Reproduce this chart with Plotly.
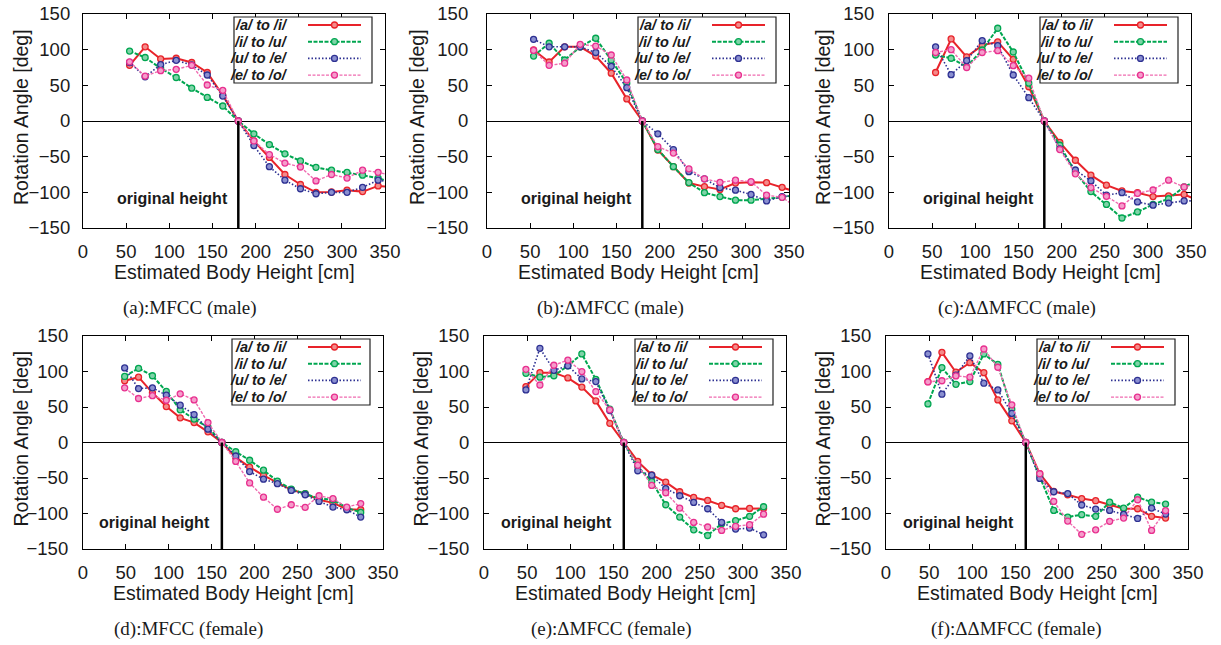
import plotly.graph_objects as go

W, H = 1221, 645

# ---------------- data ----------------
ratios = [0.3, 0.4, 0.5, 0.6, 0.7, 0.8, 0.9, 1.0, 1.1, 1.2, 1.3, 1.4, 1.5, 1.6, 1.7, 1.8, 1.9, 2.0]
male_height = 180
female_height = 162

series_names = ["/a/ to /i/", "/i/ to /u/", "/u/ to /e/", "/e/ to /o/"]

# (a) MFCC (male)
a_ai = [78, 104, 87, 88, 82, 68, 36, 0, -28, -51, -75, -89, -100, -99.5, -97, -99, -91, -93]
a_iu = [98, 89, 74, 61, 46, 33, 21, 0, -18, -33, -46, -56, -65, -69, -72, -76, -80, -87]
a_ue = [82, 62, 79, 85, 78.5, 64.5, 35, 0, -34.5, -64, -83, -95, -102, -100, -100, -93, -83, -86]
a_eo = [83, 63, 70.6, 72.4, 78, 50.5, 43, 0, -28, -47, -59, -64.5, -84, -75, -80, -69, -72, -77]
# (b) dMFCC (male)
b_ai = [99.5, 82.7, 104, 104, 91, 67, 31, 0, -40.7, -64, -87, -92, -96, -87, -86, -86.4, -93, -100]
b_iu = [91, 109, 85.5, 104, 116, 85.5, 53, 0, -40, -64, -86.4, -100.5, -106, -111, -111, -109, -107, -102.5]
b_ue = [114.5, 104, 104, 104, 96, 76.6, 46.7, 0, -18, -40, -71, -81, -93.5, -97, -103, -112, -106, -104]
b_eo = [99, 78, 81, 107.5, 105, 92.5, 57.5, 0, -36, -45, -67, -81, -86, -83, -85, -104, -107, -122]
# (c) ddMFCC (male)
c_ai = [68, 115, 90, 106, 111, 86.4, 48, 0, -30, -55, -76, -90, -98, -100.5, -106, -105, -103, -112]
c_iu = [92.5, 88, 76, 99.5, 130, 96.7, 53, 0, -34, -72, -99, -117, -136, -127.5, -117, -109, -92.5, -82]
c_ue = [104, 65, 84.6, 112.6, 105.6, 64.5, 32.7, 0, -39, -68.7, -84, -104, -100.5, -113.5, -118, -115, -112, -112]
c_eo = [96, 100, 75, 96, 98.6, 77.6, 60, 0, -40, -74, -93.5, -105.6, -119, -101.4, -96.7, -83, -92.5, -87]
# (d) MFCC (female)
d_ai = [87, 92, 70, 50.6, 34.7, 28, 15, 0, -21, -34.7, -46.4, -57, -66.6, -72, -80.6, -85, -94, -94.7]
d_iu = [93, 104.5, 94, 72, 46, 33, 21.6, 0, -13, -25, -39, -54.4, -65.6, -72, -79, -80.6, -92, -98.5]
d_ue = [105, 76, 77, 66.6, 52.5, 39.4, 18.8, 0, -19, -41, -51.6, -58, -67.5, -73.6, -83, -91, -94.7, -105]
d_eo = [77, 62, 66, 59.5, 68.5, 60, 28, 0, -26.7, -57, -77, -94, -87.7, -91.4, -75, -79, -91, -86]
# (e) dMFCC (female)
e_ai = [78.8, 98.4, 98.4, 91, 78, 58.6, 27, 0, -26.7, -45.5, -55.8, -69.4, -77.4, -81.6, -88.6, -93.3, -92.8, -92.8]
e_iu = [97.5, 92, 94, 108, 124.7, 89, 47, 0, -33.8, -54.9, -87.7, -105, -123, -131, -114.4, -110, -104, -90.5]
e_ue = [74, 132.7, 101.7, 108, 89.5, 85.8, 45, 0, -39.8, -46, -65, -75, -84.4, -93.3, -112.5, -122, -120.5, -130]
e_eo = [103, 81, 108.8, 116, 99.9, 71.7, 46, 0, -32, -60.5, -70.8, -92.4, -112.5, -119, -123.8, -118, -115.8, -101]
# (f) ddMFCC (female)
f_ai = [85.8, 127, 99, 112.5, 98.4, 60, 30.5, 0, -44, -69, -73.6, -79, -82, -87.7, -93.3, -93.3, -104, -106.4]
f_iu = [54.4, 105.5, 82, 85.8, 124.7, 110, 47, 0, -47, -95.6, -105, -101.7, -104, -84, -92.4, -77, -84, -86.7]
f_ue = [124.7, 68, 95, 122, 83.5, 74, 41, 0, -50.6, -69.4, -72, -88, -93.8, -95.6, -101.3, -107, -92.4, -100.8]
f_eo = [85.3, 87, 93.8, 92, 131.7, 106, 53, 0, -44, -83, -110.6, -129.4, -123, -111, -106.4, -80.6, -123.8, -96]

captions = ["(a):MFCC (male)", "(b):\u0394MFCC (male)", "(c):\u0394\u0394MFCC (male)",
            "(d):MFCC (female)", "(e):\u0394MFCC (female)", "(f):\u0394\u0394MFCC (female)"]

x_ticks = [0, 50, 100, 150, 200, 250, 300, 350]
y_ticks = [-150, -100, -50, 0, 50, 100, 150]

panels = [
    dict(h=male_height, data=[a_ai, a_iu, a_ue, a_eo]),
    dict(h=male_height, data=[b_ai, b_iu, b_ue, b_eo]),
    dict(h=male_height, data=[c_ai, c_iu, c_ue, c_eo]),
    dict(h=female_height, data=[d_ai, d_iu, d_ue, d_eo]),
    dict(h=female_height, data=[e_ai, e_iu, e_ue, e_eo]),
    dict(h=female_height, data=[f_ai, f_iu, f_ue, f_eo]),
]

# ---------------- styling / layout (screen-pixel geometry) ----------------
boxes = [(83, 385, 14, 228), (487, 789, 14, 228), (889, 1191, 14, 228),
         (83, 383, 336, 549), (484, 786, 336, 549), (886, 1188, 336, 549)]
ylab_x = [21, 417, 823, 20, 420, 822]
ystandoff = [8, 14, 10, 10, 10, 10]
cap_x = [190, 610, 1017, 188, 611, 1017]
orig_shift = [-8, -8, -8, -10, -10, -10]
orig_y = [-109, -109, -109, -112.5, -112.5, -112.5]


def px(x):
    return x / W


def py(y):
    return 1 - y / H


line_cols = ["#e8232a", "#00a650", "#2e3192", "#f06bb0"]
mark_cols = ["#e8232a", "#00a650", "#2e3192", "#e8308f"]
fill_cols = ["#f48a8a", "#7fd3a8", "#8a8fd0", "#f59ccb"]
dashes = ["solid", "4px,1.5px", "1.5px,2px", "3px,1.5px"]
widths = [2, 2, 1.6, 1.4]

TICKFONT = dict(family="Liberation Sans, Arial, sans-serif", size=18.5, color="#1a1a1a")
TITLEFONT = dict(family="Liberation Sans, Arial, sans-serif", size=19.5, color="#1a1a1a")
CAPFONT = dict(family="Liberation Serif, Times New Roman, serif", size=19, color="#1a1a1a")

fig = go.Figure()
layout = dict(template="none", width=W, height=H,
              margin=dict(l=0, r=0, t=0, b=0, autoexpand=False),
              paper_bgcolor="white", plot_bgcolor="white", showlegend=False)
shapes, annotations = [], []

for i, (p, box) in enumerate(zip(panels, boxes)):
    k = "" if i == 0 else str(i + 1)
    xa, ya = "x" + k, "y" + k
    L, R, T, B = box
    xs = [r * p["h"] for r in ratios]
    for j, vals in enumerate(p["data"]):
        fig.add_trace(go.Scatter(
            x=xs, y=vals, xaxis=xa, yaxis=ya, mode="lines+markers",
            name=series_names[j],
            line=dict(color=line_cols[j], width=widths[j], dash=dashes[j]),
            marker=dict(symbol="circle", size=6, color=fill_cols[j],
                        line=dict(color=mark_cols[j], width=1.3)),
            cliponaxis=True))
    common = dict(showgrid=False, showline=True, linecolor="black", linewidth=1.2,
                  mirror="ticks", ticks="inside", ticklen=5, tickcolor="black",
                  tickfont=TICKFONT, automargin=False)
    layout["xaxis" + k] = dict(common, domain=[px(L), px(R)], range=[0, 350],
                               tickvals=x_ticks, anchor=ya, zeroline=False,
                               ticklabelstandoff=7)
    layout["yaxis" + k] = dict(common, domain=[py(B), py(T)], range=[-150, 150],
                               tickvals=y_ticks, anchor=xa, zeroline=True,
                               zerolinecolor="black", zerolinewidth=1.2,
                               ticklabelstandoff=ystandoff[i])
    # original height marker line
    shapes.append(dict(type="line", xref=xa, yref=ya, x0=p["h"], x1=p["h"],
                       y0=-150, y1=0, line=dict(color="black", width=2.5)))
    annotations.append(dict(xref=xa, yref=ya, x=p["h"], y=orig_y[i], xanchor="right",
                            yanchor="middle", xshift=orig_shift[i], showarrow=False,
                            text="<b>original height</b>",
                            font=dict(family="Liberation Sans, Arial, sans-serif",
                                      size=16, color="#1a1a1a")))
    # axis titles
    annotations.append(dict(xref="paper", yref="paper", x=px(ylab_x[i]),
                            y=py((T + B) / 2 - 4), textangle=-90, showarrow=False,
                            xanchor="center", yanchor="middle",
                            text="Rotation Angle [deg]", font=TITLEFONT))
    annotations.append(dict(xref="paper", yref="paper", x=px((L + R) / 2),
                            y=py(B + 44), showarrow=False, xanchor="center",
                            yanchor="middle", text="Estimated Body Height [cm]",
                            font=TITLEFONT))
    annotations.append(dict(xref="paper", yref="paper", x=px(cap_x[i]),
                            y=py(B + 80), showarrow=False, xanchor="center",
                            yanchor="middle", text=captions[i], font=CAPFONT))
    # legend box (gnuplot style: text left, sample right)
    shapes.append(dict(type="rect", xref="paper", yref="paper", x0=px(R - 151), x1=px(R - 13),
                       y0=py(T + 69), y1=py(T + 3), line=dict(color="#222", width=1.2),
                       fillcolor="white", layer="above"))
    for j in range(4):
        ry = T + 11 + 16.7 * j
        yy = py(ry)
        annotations.append(dict(xref="paper", yref="paper", x=px(L + 207), y=yy,
                                xanchor="right", yanchor="middle", showarrow=False,
                                text="<b><i>" + series_names[j] + "</i></b>",
                                font=dict(family="Liberation Sans, Arial, sans-serif",
                                          size=14.5, color="#1a1a1a")))
        shapes.append(dict(type="line", xref="paper", yref="paper",
                           x0=px(L + 225), x1=px(L + 278), y0=yy, y1=yy,
                           layer="above",
                           line=dict(color=line_cols[j], width=widths[j], dash=dashes[j])))
        cx = L + 251.5
        shapes.append(dict(type="circle", xref="paper", yref="paper", layer="above",
                           x0=px(cx - 3), x1=px(cx + 3), y0=py(ry + 3), y1=py(ry - 3),
                           fillcolor=fill_cols[j], line=dict(color=mark_cols[j], width=1.3)))

layout["shapes"] = shapes
layout["annotations"] = annotations
fig.update_layout(**layout)
# remove the browser's default 8px body margin so the figure sits at the page origin
fig.write_html("out.html", config={"displayModeBar": False},
               post_script="document.body.style.margin='0';")
